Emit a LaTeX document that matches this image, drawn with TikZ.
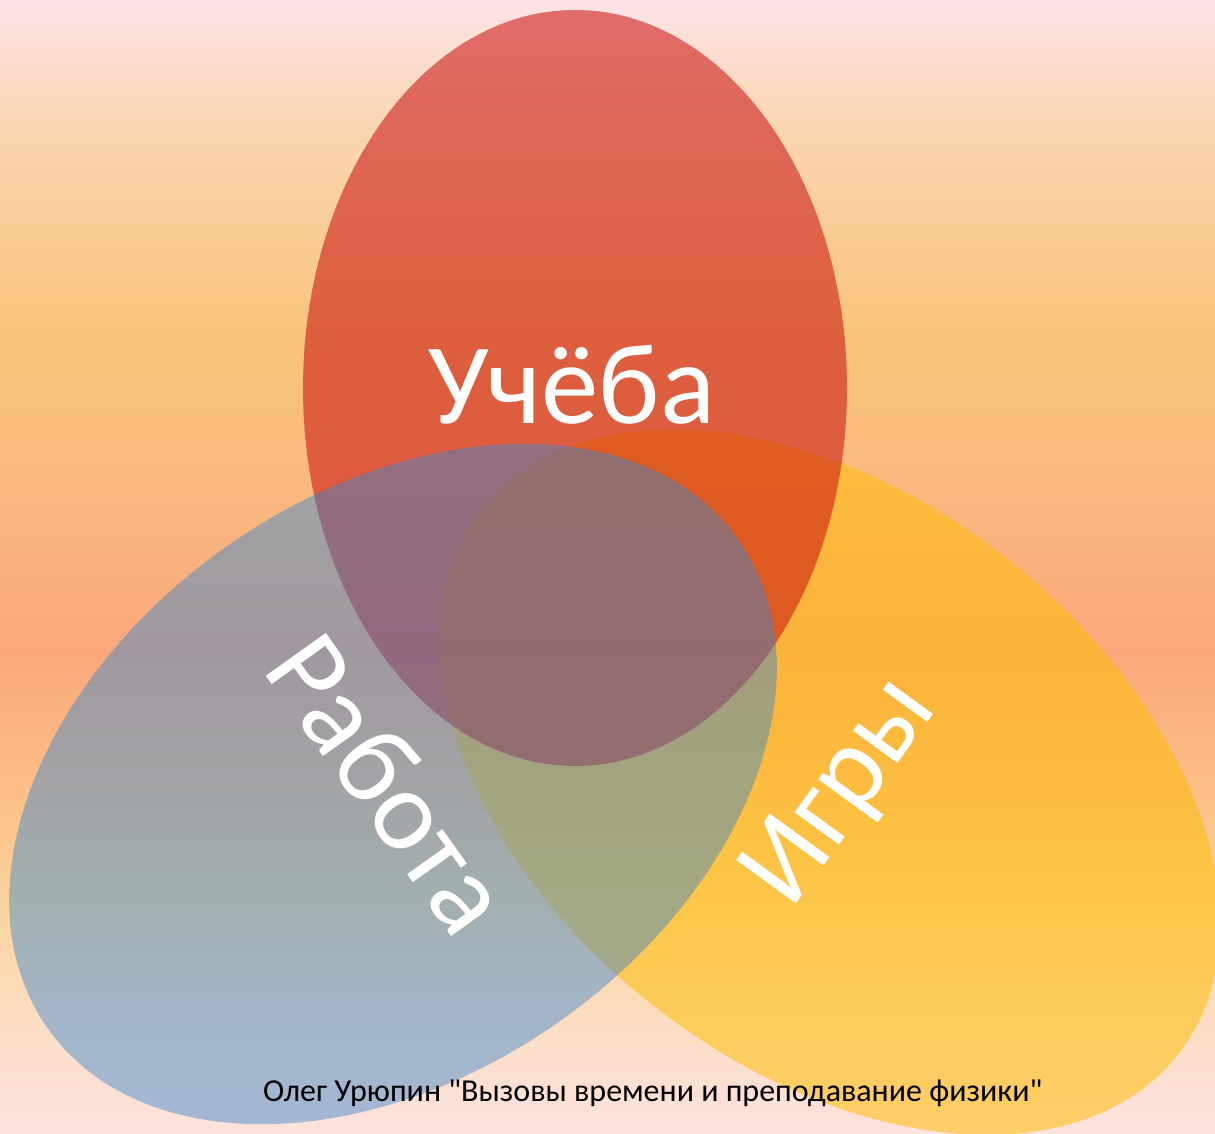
\documentclass[tikz,border=0pt]{standalone}
\usepackage{fontspec}
\setmainfont{Carlito}
\newfontfamily\footfont{Carlito}[Ligatures=TeXOff]
\definecolor{bgA}{RGB}{253,227,231}
\definecolor{bgB}{RGB}{250,214,180}
\definecolor{bgC}{RGB}{248,196,123}
\definecolor{bgD}{RGB}{249,184,127}
\definecolor{bgE}{RGB}{249,168,123}
\definecolor{bgF}{RGB}{251,192,136}
\definecolor{bgG}{RGB}{251,211,154}
\definecolor{bgH}{RGB}{252,222,198}
\definecolor{bgI}{RGB}{253,226,222}
\definecolor{yellowC}{RGB}{253,189,2}
\definecolor{redC}{RGB}{202,20,17}
\definecolor{greyC}{RGB}{55,134,205}
\pgfdeclareverticalshading{bgshade}{100bp}{color(0bp)=(bgI); color(25bp)=(bgI); color(29.59bp)=(bgH); color(35.32bp)=(bgG); color(39.73bp)=(bgF); color(46.34bp)=(bgE); color(52.95bp)=(bgD); color(60.45bp)=(bgC); color(69.71bp)=(bgB); color(75bp)=(bgA); color(100bp)=(bgA)}
\begin{document}
\begin{tikzpicture}[x=1pt,y=1pt,
  lbl/.style={text=white, font=\fontsize{115}{125}\selectfont, inner sep=0pt},
  foot/.style={text=black, font=\footfont\fontsize{32}{36}\selectfont, inner sep=0pt}]
\useasboundingbox (0,0) rectangle (1215,1134);
\shade[shading=bgshade] (0,0) rectangle (1215,1134);
\fill[yellowC, fill opacity=0.53, rotate around={-38:(830,352)}] (830,352) ellipse (442 and 285);
\fill[redC, fill opacity=0.57] (575,746) ellipse (272 and 378);
\fill[greyC, fill opacity=0.45, rotate around={35.3:(393,350)}] (393,350) ellipse (423 and 290);
\node[lbl, anchor=base] (study) at (572,710) {Учёба};
\node[lbl, rotate=-54.5] (work) at (390,351) {Работа};
\node[lbl, rotate=54] (games) at (843,341) {Игры};
\node[foot, anchor=base west] (credit) at (263,32) {Олег Урюпин "Вызовы времени и преподавание физики"};
\end{tikzpicture}
\end{document}
